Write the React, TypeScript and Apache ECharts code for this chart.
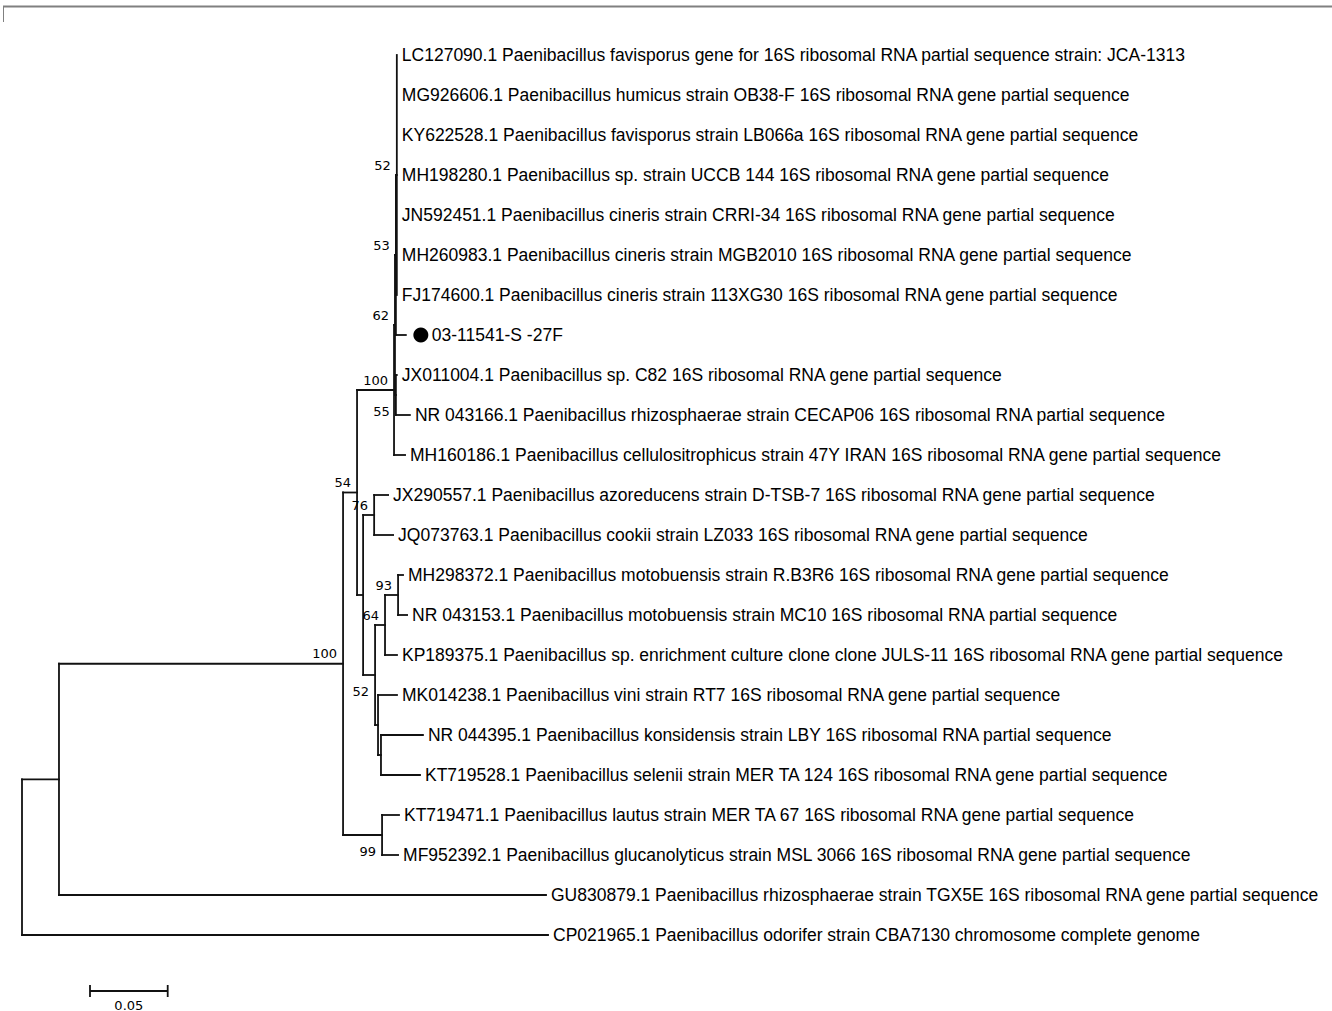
import React, { useEffect, useRef } from 'react';
import * as echarts from 'echarts';

// ---- Tree data (branch lengths in substitutions per site) ----
const nodeNames = ['root', 'A', 'B', 'N54', 'N100', 'N62', 'N53', 'N52a', 'N55', 'X', 'N76', 'Y', 'N64', 'N93', 'N52b', 'Z', 'N99'];
const nodeParents = [null, 'root', 'A', 'B', 'N54', 'N100', 'N62', 'N53', 'N62', 'N54', 'X', 'X', 'Y', 'N64', 'Y', 'N52b', 'B'];
const nodeLengths = [0, 0.0238, 0.1828, 0.009, 0.0238, 0.0006, 0.0006, 0.0006, 0.0006, 0.0039, 0.0071, 0.0077, 0.0064, 0.0084, 0.0019, 0.0019, 0.0251];
const nodeBootstrap = [null, null, 100, 54, 100, 62, 53, 52, 55, null, 76, 52, 64, 93, null, null, 99];
const bootstrapBelow = ['N55', 'Y', 'N99'];

const leafLabels = [
  'LC127090.1 Paenibacillus favisporus gene for 16S ribosomal RNA partial sequence strain: JCA-1313',
  'MG926606.1 Paenibacillus humicus strain OB38-F 16S ribosomal RNA gene partial sequence',
  'KY622528.1 Paenibacillus favisporus strain LB066a 16S ribosomal RNA gene partial sequence',
  'MH198280.1 Paenibacillus sp. strain UCCB 144 16S ribosomal RNA gene partial sequence',
  'JN592451.1 Paenibacillus cineris strain CRRI-34 16S ribosomal RNA gene partial sequence',
  'MH260983.1 Paenibacillus cineris strain MGB2010 16S ribosomal RNA gene partial sequence',
  'FJ174600.1 Paenibacillus cineris strain 113XG30 16S ribosomal RNA gene partial sequence',
  '03-11541-S -27F',
  'JX011004.1 Paenibacillus sp. C82 16S ribosomal RNA gene partial sequence',
  'NR 043166.1 Paenibacillus rhizosphaerae strain CECAP06 16S ribosomal RNA partial sequence',
  'MH160186.1 Paenibacillus cellulositrophicus strain 47Y IRAN 16S ribosomal RNA gene partial sequence',
  'JX290557.1 Paenibacillus azoreducens strain D-TSB-7 16S ribosomal RNA gene partial sequence',
  'JQ073763.1 Paenibacillus cookii strain LZ033 16S ribosomal RNA gene partial sequence',
  'MH298372.1 Paenibacillus motobuensis strain R.B3R6 16S ribosomal RNA gene partial sequence',
  'NR 043153.1 Paenibacillus motobuensis strain MC10 16S ribosomal RNA partial sequence',
  'KP189375.1 Paenibacillus sp. enrichment culture clone clone JULS-11 16S ribosomal RNA gene partial sequence',
  'MK014238.1 Paenibacillus vini strain RT7 16S ribosomal RNA gene partial sequence',
  'NR 044395.1 Paenibacillus konsidensis strain LBY 16S ribosomal RNA partial sequence',
  'KT719528.1 Paenibacillus selenii strain MER TA 124 16S ribosomal RNA gene partial sequence',
  'KT719471.1 Paenibacillus lautus strain MER TA 67 16S ribosomal RNA gene partial sequence',
  'MF952392.1 Paenibacillus glucanolyticus strain MSL 3066 16S ribosomal RNA gene partial sequence',
  'GU830879.1 Paenibacillus rhizosphaerae strain TGX5E 16S ribosomal RNA gene partial sequence',
  'CP021965.1 Paenibacillus odorifer strain CBA7130 chromosome complete genome',
];
const leafParents = ['N52a', 'N52a', 'N52a', 'N52a', 'N52a', 'N52a', 'N52a', 'N53', 'N55', 'N55', 'N100', 'N76', 'N76', 'N93', 'N93', 'N64', 'N52b', 'Z', 'Z', 'N99', 'N99', 'A', 'root'];
const leafLengths = [0, 0, 0, 0, 0, 0, 0, 0.0064, 0.0006, 0.009, 0.0071, 0.009, 0.0122, 0.0032, 0.0058, 0.0077, 0.0122, 0.027, 0.0251, 0.0109, 0.0103, 0.3134, 0.3385];
const leafMarkers = [false, false, false, false, false, false, false, true, false, false, false, false, false, false, false, false, false, false, false, false, false, false, false];

const scaleBarLength = 0.05;
const scaleBarLabel = '0.05';

// ---- Layout computation ----
function buildTree() {
  const depth: Record<string, number> = {};
  nodeNames.forEach((n, i) => {
    const p = nodeParents[i];
    depth[n] = (p ? depth[p] : 0) + nodeLengths[i];
  });
  const children: Record<string, { kind: 'node' | 'leaf'; id: string | number }[]> = {};
  nodeNames.forEach((n) => (children[n] = []));
  nodeNames.forEach((n, i) => {
    const p = nodeParents[i];
    if (p) children[p].push({ kind: 'node', id: n });
  });
  leafParents.forEach((p, i) => children[p].push({ kind: 'leaf', id: i }));
  const yCache: Record<string, number> = {};
  const yNode = (n: string): number => {
    if (yCache[n] !== undefined) return yCache[n];
    const ys = children[n].map((c) => (c.kind === 'leaf' ? (c.id as number) : yNode(c.id as string)));
    const v = (Math.min(...ys) + Math.max(...ys)) / 2;
    yCache[n] = v;
    return v;
  };
  nodeNames.forEach((n) => yNode(n));
  const segments: number[][] = [];
  nodeNames.forEach((n, i) => {
    const p = nodeParents[i];
    if (p) segments.push([depth[p], yCache[n], depth[n], yCache[n]]);
    const ys = children[n].map((c) => (c.kind === 'leaf' ? (c.id as number) : yCache[c.id as string]));
    segments.push([depth[n], Math.min(...ys), depth[n], Math.max(...ys)]);
  });
  const leaves = leafLabels.map((_, i) => {
    const d = depth[leafParents[i]] + leafLengths[i];
    segments.push([depth[leafParents[i]], i, d, i]);
    return [d, i, i];
  });
  const boots = nodeNames
    .map((n, i) => [depth[n], yCache[n], nodeBootstrap[i] ?? -1, bootstrapBelow.includes(n) ? 1 : 0])
    .filter((b) => b[2] >= 0);
  return { segments, leaves, boots };
}

const LINE = '#111';
const PX_PER_UNIT = 1554;

export default function App() {
  const ref = useRef<HTMLDivElement>(null);
  useEffect(() => {
    if (!ref.current) return;
    const chart = echarts.init(ref.current, undefined, { renderer: 'svg' });
    const { segments, leaves, boots } = buildTree();
    const xMax = 0.8;
    chart.setOption({
      animation: false,
      backgroundColor: '#fff',
      grid: { left: 22, top: 55, width: xMax * PX_PER_UNIT, height: 880 },
      xAxis: { type: 'value', min: 0, max: xMax, show: false },
      yAxis: { type: 'value', min: 0, max: 22, inverse: true, show: false },
      graphic: [
        { type: 'line', shape: { x1: 3, y1: 6.5, x2: 1332, y2: 6.5 }, style: { stroke: '#808080', lineWidth: 2 } },
        { type: 'line', shape: { x1: 3.5, y1: 6, x2: 3.5, y2: 22 }, style: { stroke: '#808080', lineWidth: 1 } },
      ],
      series: [
        {
          type: 'custom',
          name: 'branches',
          clip: false,
          encode: { x: [0, 2], y: [1, 3] },
          data: segments,
          renderItem: (_p: any, api: any) => {
            const a = api.coord([api.value(0), api.value(1)]);
            const b = api.coord([api.value(2), api.value(3)]);
            return {
              type: 'line',
              shape: { x1: a[0], y1: a[1], x2: b[0], y2: b[1] },
              style: { stroke: LINE, lineWidth: 1.8, lineCap: 'square' },
            };
          },
        },
        {
          type: 'custom',
          name: 'leaves',
          clip: false,
          encode: { x: 0, y: 1 },
          data: leaves,
          renderItem: (_p: any, api: any) => {
            const tip = api.coord([api.value(0), api.value(1)]);
            const idx = api.value(2);
            const els: any[] = [];
            let tx = tip[0] + 5;
            if (leafMarkers[idx]) {
              els.push({ type: 'circle', shape: { cx: tip[0] + 15, cy: tip[1], r: 7.5 }, style: { fill: '#000' } });
              tx = tip[0] + 26;
            }
            els.push({
              type: 'text',
              style: {
                text: leafLabels[idx],
                x: tx,
                y: tip[1],
                align: 'left',
                verticalAlign: 'middle',
                fontFamily: 'Liberation Sans, Arial, sans-serif',
                fontSize: 17.5,
                fill: '#000',
              },
            });
            return { type: 'group', children: els };
          },
        },
        {
          type: 'custom',
          name: 'bootstrap',
          clip: false,
          encode: { x: 0, y: 1 },
          data: boots,
          renderItem: (_p: any, api: any) => {
            const pt = api.coord([api.value(0), api.value(1)]);
            const below = api.value(3) === 1;
            return {
              type: 'text',
              style: {
                text: String(api.value(2)),
                x: pt[0] - 6,
                y: pt[1] + (below ? 16 : -10),
                align: 'right',
                verticalAlign: 'middle',
                fontFamily: 'DejaVu Sans, Verdana, sans-serif',
                fontSize: 13,
                fill: '#000',
              },
            };
          },
        },
        {
          type: 'custom',
          name: 'scale',
          clip: false,
          encode: { x: 0, y: 1 },
          data: [[0, 0, scaleBarLength]],
          renderItem: (_p: any, api: any) => {
            const len = api.size([api.value(2), 0])[0];
            const x0 = 90;
            const y0 = 991;
            const st = { stroke: LINE, lineWidth: 1.8 };
            return {
              type: 'group',
              children: [
                { type: 'line', shape: { x1: x0, y1: y0, x2: x0 + len, y2: y0 }, style: st },
                { type: 'line', shape: { x1: x0, y1: y0 - 6, x2: x0, y2: y0 + 6 }, style: st },
                { type: 'line', shape: { x1: x0 + len, y1: y0 - 6, x2: x0 + len, y2: y0 + 6 }, style: st },
                {
                  type: 'text',
                  style: {
                    text: scaleBarLabel,
                    x: x0 + len / 2,
                    y: y0 + 14,
                    align: 'center',
                    verticalAlign: 'middle',
                    fontFamily: 'DejaVu Sans, Verdana, sans-serif',
                    fontSize: 13,
                    fill: '#000',
                  },
                },
              ],
            };
          },
        },
      ],
    });
    return () => chart.dispose();
  }, []);
  return <div ref={ref} style={{ position: 'absolute', left: 0, top: 0, width: 1332, height: 1011 }} />;
}
